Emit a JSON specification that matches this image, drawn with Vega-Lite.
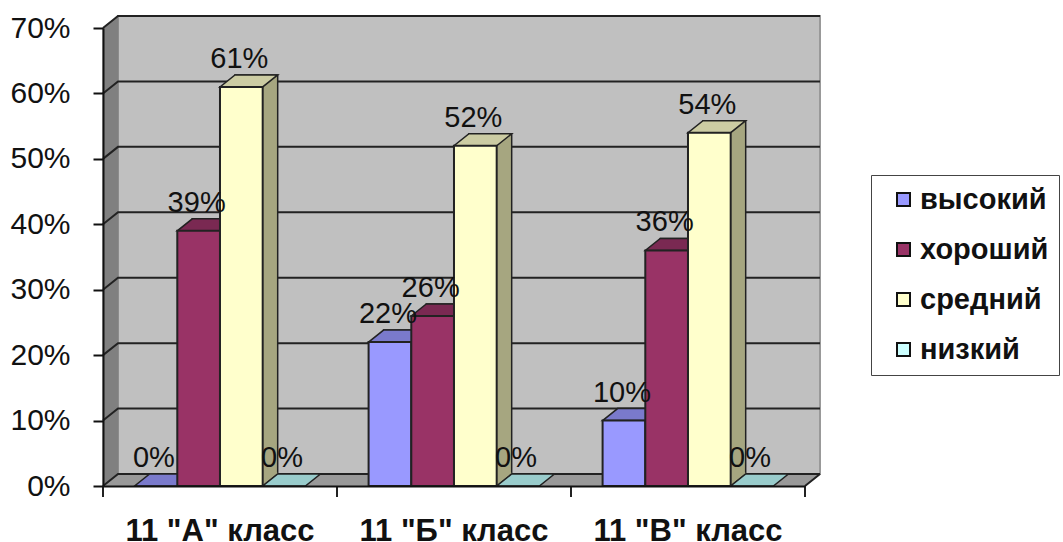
{
"$schema":"https://vega.github.io/schema/vega-lite/v6.json",
"width":702,"height":458,
"autosize":{"type":"none"},
"padding":{"left":103,"top":28,"right":258,"bottom":56},
"background":"white",
"config":{"view":{"stroke":null},"font":"Liberation Sans"},
"datasets":{
"bars":[
{"group":"11 \"А\" класс","series":"высокий","value":0,"label":"0%"},
{"group":"11 \"А\" класс","series":"хороший","value":39,"label":"39%"},
{"group":"11 \"А\" класс","series":"средний","value":61,"label":"61%"},
{"group":"11 \"А\" класс","series":"низкий","value":0,"label":"0%"},
{"group":"11 \"Б\" класс","series":"высокий","value":22,"label":"22%"},
{"group":"11 \"Б\" класс","series":"хороший","value":26,"label":"26%"},
{"group":"11 \"Б\" класс","series":"средний","value":52,"label":"52%"},
{"group":"11 \"Б\" класс","series":"низкий","value":0,"label":"0%"},
{"group":"11 \"В\" класс","series":"высокий","value":10,"label":"10%"},
{"group":"11 \"В\" класс","series":"хороший","value":36,"label":"36%"},
{"group":"11 \"В\" класс","series":"средний","value":54,"label":"54%"},
{"group":"11 \"В\" класс","series":"низкий","value":0,"label":"0%"}
],
"ticks":[{"tick":0},{"tick":10},{"tick":20},{"tick":30},{"tick":40},{"tick":50},{"tick":60},{"tick":70}],
"base":[{"tick":0}]
},
"encoding":{
"x":{"field":"group","type":"nominal","sort":null,"scale":{"domain":["11 \"А\" класс","11 \"Б\" класс","11 \"В\" класс"],"paddingInner":0.27,"paddingOuter":0.135},
"axis":{"title":null,"labelAngle":0,"ticks":false,"domainColor":"#111","domainWidth":2,"labelFontSize":31,"labelFontWeight":"bold","labelColor":"#111","labelPadding":30,"labelLimit":400,"zindex":1,"labelBaseline":"top","grid":false}},
"y":{"field":"value","type":"quantitative","scale":{"domain":[0,70],"nice":false},
"axis":{"title":null,"values":[0,10,20,30,40,50,60,70],"labelExpr":"datum.value+'%'","tickSize":10,"tickColor":"#111","tickWidth":2,"domainColor":"#111","domainWidth":2,"labelFontSize":30,"labelColor":"#111","labelPadding":23,"grid":false,"zindex":1}}
},
"layer":[
{"data":{"name":"base"},"mark":{"type":"point","filled":true,"opacity":1,"size":4,"fill":"#c0c0c0","stroke":"#999","strokeWidth":2,"shape":"M-336,-12L366,-12L366,-470L-336,-470Z"},
 "encoding":{"x":{"datum":"11 \"Б\" класс"},"y":{"field":"tick","type":"quantitative"}}},
{"data":{"name":"base"},"mark":{"type":"point","filled":true,"opacity":1,"size":4,"fill":"#808080","stroke":"#808080","strokeWidth":1,"shape":"M-351,0L-336,-12L-336,-470L-351,-458Z"},
 "encoding":{"x":{"datum":"11 \"Б\" класс"},"y":{"field":"tick","type":"quantitative"}}},
{"data":{"name":"base"},"mark":{"type":"point","filled":true,"opacity":1,"size":4,"fill":"#999999","stroke":"#999999","strokeWidth":1,"shape":"M-351,0L351,0L366,-12L-336,-12Z"},
 "encoding":{"x":{"datum":"11 \"Б\" класс"},"y":{"field":"tick","type":"quantitative"}}},
{"data":{"name":"ticks"},"mark":{"type":"point","filled":false,"opacity":1,"size":4,"stroke":"#222","strokeWidth":2,"shape":"M-351,0L-336,-12L366,-12"},
 "encoding":{"x":{"datum":"11 \"Б\" класс"},"y":{"field":"tick","type":"quantitative"}}},
{"data":{"name":"base"},"mark":{"type":"point","filled":false,"opacity":1,"size":4,"stroke":"#222","strokeWidth":2,"shape":"M-351,0L-351,11M-117,0L-117,11M117,0L117,11M351,0L351,11M351,0L366,-12"},
 "encoding":{"x":{"datum":"11 \"Б\" класс"},"y":{"field":"tick","type":"quantitative"}}},
{"data":{"name":"bars"},"transform":[{"filter":"datum.value>0"}],
 "mark":{"type":"bar","stroke":"#222","strokeWidth":1.5,"yOffset":-12,"y2Offset":-12},
 "encoding":{"xOffset":{"field":"series","sort":["высокий","хороший","средний","низкий"],"scale":{"paddingInner":0,"domain":["высокий","хороший","средний","низкий"],"range":[15,185.8]}},
 "fill":{"field":"series","legend":null,"scale":{"domain":["высокий","хороший","средний","низкий"],"range":["#5c5c99","#5c1f3d","#a6a680","#7a9999"]}}}},
{"data":{"name":"bars"},"transform":[{"filter":"datum.value>0"}],
 "mark":{"type":"point","filled":true,"opacity":1,"size":4,"shape":"M21.35,0L36.35,-12L35.6,-14L21.35,-14Z"},
 "encoding":{"xOffset":{"field":"series","sort":["высокий","хороший","средний","низкий"],"scale":{"paddingInner":0,"domain":["высокий","хороший","средний","низкий"],"range":[0,170.8]}},
 "y":{"datum":0},
 "fill":{"field":"series","legend":null,"scale":{"domain":["высокий","хороший","средний","низкий"],"range":["#5c5c99","#5c1f3d","#a6a680","#7a9999"]}}}},
{"data":{"name":"bars"},"transform":[{"filter":"datum.value>0"}],
 "mark":{"type":"point","filled":false,"opacity":1,"size":4,"stroke":"#222","strokeWidth":1.5,"shape":"M21.35,0L36.35,-12"},
 "encoding":{"xOffset":{"field":"series","sort":["высокий","хороший","средний","низкий"],"scale":{"paddingInner":0,"domain":["высокий","хороший","средний","низкий"],"range":[0,170.8]}},
 "y":{"datum":0}}},
{"data":{"name":"bars"},
 "mark":{"type":"point","filled":true,"opacity":1,"size":4,"stroke":"#222","strokeWidth":1.5,"shape":"M-21.35,0L21.35,0L36.35,-12L-6.35,-12Z"},
 "encoding":{"xOffset":{"field":"series","sort":["высокий","хороший","средний","низкий"],"scale":{"paddingInner":0,"domain":["высокий","хороший","средний","низкий"],"range":[0,170.8]}},
 "fill":{"field":"series","legend":null,"scale":{"domain":["высокий","хороший","средний","низкий"],"range":["#7a7acc","#7a2952","#cccca3","#99cccc"]}}}},
{"data":{"name":"bars"},"transform":[{"filter":"datum.value>0"}],
 "mark":{"type":"bar","stroke":"#222","strokeWidth":2},
 "encoding":{"xOffset":{"field":"series","sort":["высокий","хороший","средний","низкий"],"scale":{"paddingInner":0,"domain":["высокий","хороший","средний","низкий"],"range":[0,170.8]}},
 "fill":{"field":"series","scale":{"domain":["высокий","хороший","средний","низкий"],"range":["#9999ff","#993366","#ffffcc","#ccffff"]},
 "legend":{"title":null,"orient":"none","legendX":768,"legendY":147,"padding":10,"strokeColor":"#444","fillColor":"white","symbolType":"square","symbolSize":169,"symbolStrokeWidth":2,"symbolStrokeColor":"#111","symbolOffset":8,"labelFontSize":29,"labelFontWeight":"bold","labelColor":"#111","labelLimit":300,"rowPadding":20,"labelOffset":2}}}},
{"data":{"name":"bars"},
 "mark":{"type":"text","fontSize":29,"color":"#111","dx":-2,"dy":-19,"baseline":"alphabetic","align":"center"},
 "encoding":{"xOffset":{"field":"series","sort":["высокий","хороший","средний","низкий"],"scale":{"paddingInner":0,"domain":["высокий","хороший","средний","низкий"],"range":[0,170.8]}},
 "text":{"field":"label"}}}
],
"resolve":{"scale":{"fill":"independent","xOffset":"independent"}}
}
